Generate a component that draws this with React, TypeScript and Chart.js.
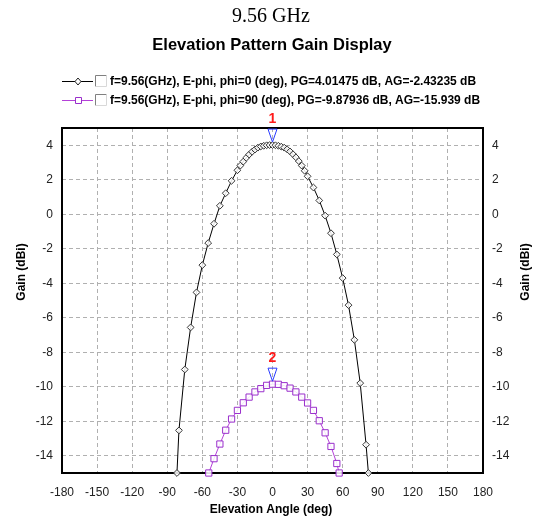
import React, { useEffect, useRef } from 'react';
import { Chart, registerables } from 'chart.js';

Chart.register(...registerables);

const chartTitle = '9.56 GHz';
const chartSubtitle = 'Elevation Pattern Gain Display';
const xAxisTitle = 'Elevation Angle (deg)';
const yAxisTitle = 'Gain (dBi)';

const xTicks = [-180, -150, -120, -90, -60, -30, 0, 30, 60, 90, 120, 150, 180];
const yTicks = [-14, -12, -10, -8, -6, -4, -2, 0, 2, 4];

const seriesLabels = [
  'f=9.56(GHz), E-phi, phi=0 (deg), PG=4.01475 dB, AG=-2.43235 dB',
  'f=9.56(GHz), E-phi, phi=90 (deg), PG=-9.87936 dB, AG=-15.939 dB',
];
const markerLabels = ['1', '2'];

const angles1 = [
  -81.7, -80, -75, -70, -65, -60, -55, -50, -45, -40, -35, -30, -27.5, -25, -22.5, -20, -17.5,
  -15, -12.5, -10, -7.5, -5, -2.5, 0, 2.5, 5, 7.5, 10, 12.5, 15, 17.5, 20, 22.5, 25, 27.5, 30,
  35, 40, 45, 50, 55, 60, 65, 70, 75, 80, 82,
];
const gain1 = [
  -15, -12.53, -9.0, -6.56, -4.53, -2.95, -1.67, -0.55, 0.49, 1.22, 1.94, 2.55, 2.82, 3.05, 3.27,
  3.46, 3.62, 3.75, 3.86, 3.93, 3.97, 4.0, 4.01, 4.01, 4.0, 3.97, 3.92, 3.86, 3.76, 3.64, 3.48,
  3.3, 3.08, 2.82, 2.52, 2.2, 1.55, 0.8, -0.08, -1.1, -2.33, -3.7, -5.27, -7.28, -9.79, -13.36,
  -15,
];

const angles2 = [
  -54.5, -50, -45, -40, -35, -30, -25, -20, -15, -10, -5, 0, 5, 10, 15, 20, 25, 30, 35, 40, 45,
  50, 55, 57,
];
const gain2 = [
  -15, -14.17, -13.32, -12.52, -11.87, -11.37, -10.93, -10.6, -10.3, -10.11, -9.92, -9.85, -9.86,
  -9.94, -10.08, -10.3, -10.6, -10.94, -11.37, -11.97, -12.67, -13.46, -14.45, -15,
];

const SANS = "'Liberation Sans', Arial, sans-serif";
const SERIF = "'Liberation Serif', 'Times New Roman', serif";
const BLACK = '#000000';
const PURPLE = '#b441d8';
const PURPLE_PT = '#9a2fcc';

const overlayPlugin = {
  id: 'overlay',
  beforeDatasetsDraw(chart: any) {
    const { ctx, chartArea: a } = chart;
    ctx.save();
    ctx.strokeStyle = '#000';
    ctx.lineWidth = 2;
    ctx.strokeRect(a.left, a.top, a.right - a.left, a.bottom - a.top);
    ctx.restore();
  },
  afterDraw(chart: any) {
    const { ctx } = chart;
    ctx.save();
    ctx.fillStyle = '#000';
    ctx.textAlign = 'center';
    ctx.textBaseline = 'middle';
    ctx.font = `20px ${SERIF}`;
    ctx.fillText(chartTitle, 271, 17);
    ctx.font = `bold 16.5px ${SANS}`;
    ctx.fillText(chartSubtitle, 272, 45);

    const rows = [81, 100];
    const colors = [BLACK, PURPLE];
    rows.forEach((ry, i) => {
      ctx.strokeStyle = colors[i];
      ctx.lineWidth = 1;
      ctx.beginPath();
      ctx.moveTo(62, ry + 0.5);
      ctx.lineTo(93, ry + 0.5);
      ctx.stroke();
      ctx.fillStyle = '#fff';
      ctx.beginPath();
      if (i === 0) {
        ctx.strokeStyle = '#222';
        ctx.moveTo(78, ry - 3);
        ctx.lineTo(81, ry + 0.5);
        ctx.lineTo(78, ry + 4);
        ctx.lineTo(75, ry + 0.5);
        ctx.closePath();
      } else {
        ctx.strokeStyle = PURPLE_PT;
        ctx.rect(75.5, ry - 2.5, 6, 6);
      }
      ctx.fill();
      ctx.stroke();
      const bx = 95.5, by = ry - 5.5, bs = 11;
      ctx.fillStyle = '#fff';
      ctx.fillRect(bx, by, bs, bs);
      ctx.strokeStyle = '#808080';
      ctx.beginPath();
      ctx.moveTo(bx, by + bs);
      ctx.lineTo(bx, by);
      ctx.lineTo(bx + bs, by);
      ctx.stroke();
      ctx.strokeStyle = '#d8d8d8';
      ctx.beginPath();
      ctx.moveTo(bx + bs, by);
      ctx.lineTo(bx + bs, by + bs);
      ctx.lineTo(bx, by + bs);
      ctx.stroke();
      ctx.fillStyle = '#000';
      ctx.textAlign = 'left';
      ctx.textBaseline = 'middle';
      ctx.font = `bold 12px ${SANS}`;
      ctx.fillText(seriesLabels[i], 110, ry + 1);
    });

    ctx.font = `bold 12px ${SANS}`;
    ctx.textAlign = 'center';
    ctx.textBaseline = 'middle';
    ctx.fillStyle = '#000';
    ctx.fillText(xAxisTitle, 271, 510);
    [22, 526].forEach((tx) => {
      ctx.save();
      ctx.translate(tx, 272);
      ctx.rotate(-Math.PI / 2);
      ctx.fillText(yAxisTitle, 0, 0);
      ctx.restore();
    });

    chart.data.datasets.forEach((ds: any, i: number) => {
      const meta = chart.getDatasetMeta(i);
      let best = 0;
      ds.data.forEach((p: any, j: number) => {
        if (p.y > ds.data[best].y) best = j;
      });
      const el = meta.data[best];
      const px = chart.scales.x.getPixelForValue(0);
      const py = el.y;
      ctx.strokeStyle = '#2a3cff';
      ctx.lineWidth = 1;
      ctx.beginPath();
      ctx.moveTo(px - 4.5, py - 16);
      ctx.lineTo(px + 4.5, py - 16);
      ctx.lineTo(px, py - 3);
      ctx.closePath();
      ctx.stroke();
      ctx.fillStyle = '#ff1a1a';
      ctx.font = `bold 14px ${SANS}`;
      ctx.textAlign = 'center';
      ctx.textBaseline = 'middle';
      ctx.fillText(markerLabels[i], px, py - 26);
    });
    ctx.restore();
  },
};

export default function App() {
  const ref = useRef<HTMLCanvasElement | null>(null);
  useEffect(() => {
    document.body.style.margin = '0';
    const canvas = ref.current;
    if (!canvas) return;
    const yTickFn = (s: any) => {
      s.ticks = yTicks.map((v) => ({ value: v }));
    };
    const tickFont = { family: SANS, size: 12 };
    const chart = new Chart(canvas, {
      type: 'line',
      data: {
        datasets: [
          {
            label: seriesLabels[0],
            data: angles1.map((x, i) => ({ x, y: gain1[i] })),
            borderColor: BLACK,
            borderWidth: 1,
            pointStyle: 'rectRot',
            pointRadius: 3.4,
            pointBorderColor: '#333',
            pointBackgroundColor: 'rgba(255,255,255,0.85)',
            pointBorderWidth: 1,
            tension: 0,
            clip: 8,
          },
          {
            label: seriesLabels[1],
            data: angles2.map((x, i) => ({ x, y: gain2[i] })),
            borderColor: PURPLE,
            borderWidth: 1,
            pointStyle: 'rect',
            pointRadius: 4.4,
            pointBorderColor: PURPLE_PT,
            pointBackgroundColor: 'rgba(255,255,255,0.85)',
            pointBorderWidth: 1,
            tension: 0,
            clip: 8,
          },
        ],
      } as any,
      options: {
        responsive: false,
        animation: false,
        devicePixelRatio: 1,
        layout: { padding: { top: 128, left: 0, right: 0, bottom: 0 } },
        plugins: { legend: { display: false }, title: { display: false }, tooltip: { enabled: false } },
        scales: {
          x: {
            type: 'linear',
            min: -180,
            max: 180,
            afterBuildTicks: (s: any) => {
              s.ticks = xTicks.map((v) => ({ value: v }));
            },
            afterFit: (s: any) => {
              s.height = 46;
            },
            grid: { color: '#b0b0b0', lineWidth: 1, drawTicks: false },
            border: { display: false, dash: [4, 3] },
            ticks: {
              padding: 12,
              color: '#222',
              font: tickFont,
              maxRotation: 0,
              autoSkip: false,
              callback: (v: any) => String(v),
            },
          },
          y: {
            type: 'linear',
            position: 'left',
            min: -15,
            max: 5,
            afterBuildTicks: yTickFn,
            afterFit: (s: any) => {
              s.width = 62;
            },
            grid: { color: '#b0b0b0', lineWidth: 1, drawTicks: false },
            border: { display: false, dash: [4, 3] },
            ticks: { padding: 9, color: '#222', font: tickFont, callback: (v: any) => String(v) },
          },
          y2: {
            type: 'linear',
            position: 'right',
            min: -15,
            max: 5,
            afterBuildTicks: yTickFn,
            afterFit: (s: any) => {
              s.width = 55;
            },
            grid: { display: false, drawTicks: false },
            border: { display: false },
            ticks: { padding: 9, color: '#222', font: tickFont, callback: (v: any) => String(v) },
          },
        },
      } as any,
      plugins: [overlayPlugin],
    });
    return () => chart.destroy();
  }, []);
  return <canvas ref={ref} width={538} height={519} style={{ display: 'block' }} />;
}
